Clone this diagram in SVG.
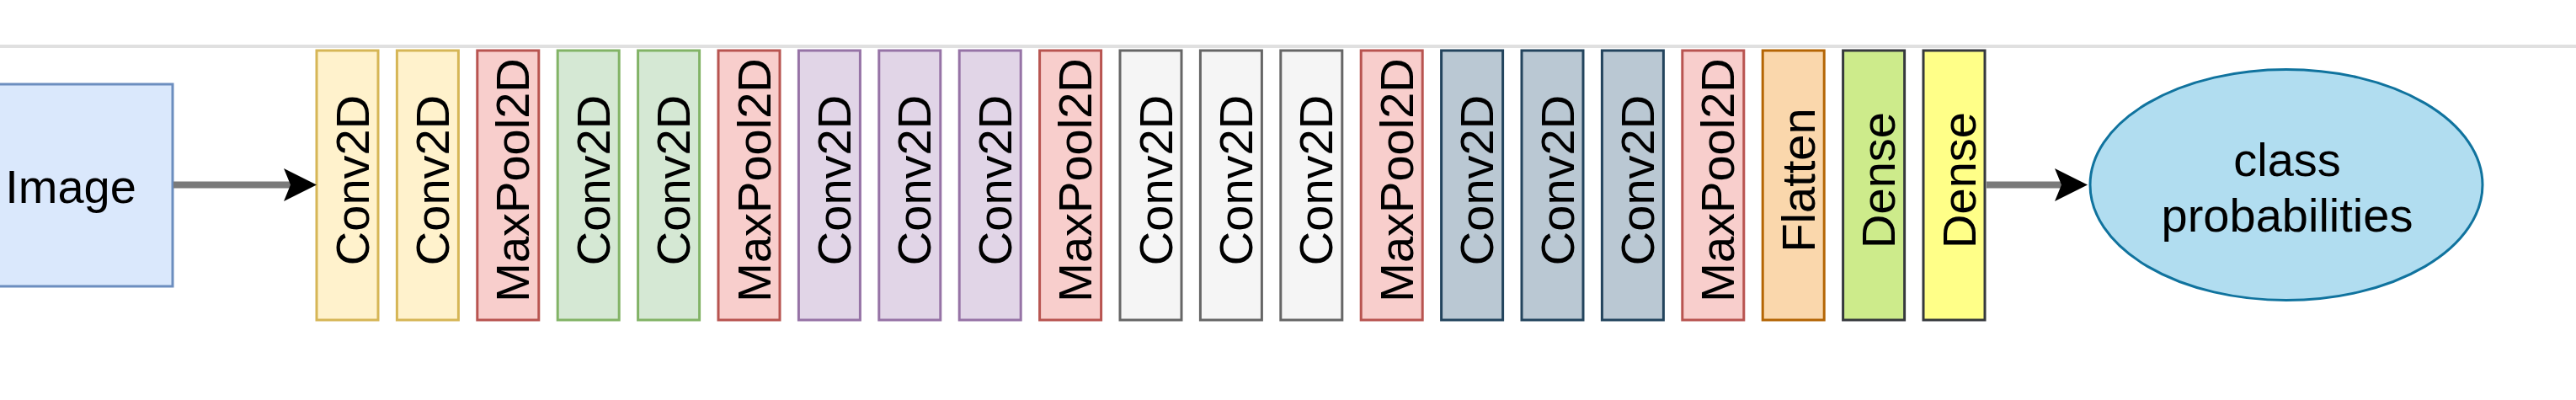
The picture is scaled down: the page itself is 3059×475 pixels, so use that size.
<svg xmlns="http://www.w3.org/2000/svg" width="3059" height="475" viewBox="0 0 3059 475">
<style>
text{font-family:"Liberation Sans",Arial,Helvetica,sans-serif;font-size:56px;fill:#000;text-anchor:middle}
.b{stroke-width:3}
.yel{fill:#fff2cc;stroke:#d6b656}
.red{fill:#f8cecc;stroke:#b85450}
.grn{fill:#d5e8d4;stroke:#82b366}
.pur{fill:#e1d5e7;stroke:#9673a6}
.gry{fill:#f5f5f5;stroke:#666666}
.bgr{fill:#bac8d3;stroke:#23445d}
.org{fill:#fad7ac;stroke:#b46504}
.lim{fill:#cdeb8b;stroke:#36393d}
.ylw{fill:#ffff88;stroke:#36393d}
.conn{stroke:#7a7a7a;stroke-width:8;fill:none}
</style>
<defs>
<marker id="ah" viewBox="0 0 40 40" refX="8" refY="20" markerWidth="40" markerHeight="40" markerUnits="userSpaceOnUse" orient="auto">
<path d="M0,0.5 L39,20 L0,39.5 L8,20 Z" fill="#000"/>
</marker>
</defs>
<rect x="0" y="53" width="3059" height="4" fill="#e0e0e0"/>
<g id="image">
<rect x="-40" y="100" width="245" height="240" fill="#dae8fc" stroke="#6c8ebf" stroke-width="3"/>
<text x="84" y="241">Image</text>
</g>
<g id="layers">
<g id="l0"><rect class="b yel" x="376" y="60" width="73" height="320"/><text transform="translate(437.5,214) rotate(-90)">Conv2D</text></g>
<g id="l1"><rect class="b yel" x="471.4" y="60" width="73" height="320"/><text transform="translate(532.9,214) rotate(-90)">Conv2D</text></g>
<g id="l2"><rect class="b red" x="566.8" y="60" width="73" height="320"/><text transform="translate(628.3,214) rotate(-90)">MaxPool2D</text></g>
<g id="l3"><rect class="b grn" x="662.2" y="60" width="73" height="320"/><text transform="translate(723.7,214) rotate(-90)">Conv2D</text></g>
<g id="l4"><rect class="b grn" x="757.6" y="60" width="73" height="320"/><text transform="translate(819.1,214) rotate(-90)">Conv2D</text></g>
<g id="l5"><rect class="b red" x="853" y="60" width="73" height="320"/><text transform="translate(914.5,214) rotate(-90)">MaxPool2D</text></g>
<g id="l6"><rect class="b pur" x="948.4" y="60" width="73" height="320"/><text transform="translate(1009.9,214) rotate(-90)">Conv2D</text></g>
<g id="l7"><rect class="b pur" x="1043.8" y="60" width="73" height="320"/><text transform="translate(1105.3,214) rotate(-90)">Conv2D</text></g>
<g id="l8"><rect class="b pur" x="1139.2" y="60" width="73" height="320"/><text transform="translate(1200.7,214) rotate(-90)">Conv2D</text></g>
<g id="l9"><rect class="b red" x="1234.6" y="60" width="73" height="320"/><text transform="translate(1296.1,214) rotate(-90)">MaxPool2D</text></g>
<g id="l10"><rect class="b gry" x="1330" y="60" width="73" height="320"/><text transform="translate(1391.5,214) rotate(-90)">Conv2D</text></g>
<g id="l11"><rect class="b gry" x="1425.4" y="60" width="73" height="320"/><text transform="translate(1486.9,214) rotate(-90)">Conv2D</text></g>
<g id="l12"><rect class="b gry" x="1520.8" y="60" width="73" height="320"/><text transform="translate(1582.3,214) rotate(-90)">Conv2D</text></g>
<g id="l13"><rect class="b red" x="1616.2" y="60" width="73" height="320"/><text transform="translate(1677.7,214) rotate(-90)">MaxPool2D</text></g>
<g id="l14"><rect class="b bgr" x="1711.6" y="60" width="73" height="320"/><text transform="translate(1773.1,214) rotate(-90)">Conv2D</text></g>
<g id="l15"><rect class="b bgr" x="1807" y="60" width="73" height="320"/><text transform="translate(1868.5,214) rotate(-90)">Conv2D</text></g>
<g id="l16"><rect class="b bgr" x="1902.4" y="60" width="73" height="320"/><text transform="translate(1963.9,214) rotate(-90)">Conv2D</text></g>
<g id="l17"><rect class="b red" x="1997.8" y="60" width="73" height="320"/><text transform="translate(2059.3,214) rotate(-90)">MaxPool2D</text></g>
<g id="l18"><rect class="b org" x="2093.2" y="60" width="73" height="320"/><text transform="translate(2154.7,214) rotate(-90)">Flatten</text></g>
<g id="l19"><rect class="b lim" x="2188.6" y="60" width="73" height="320"/><text transform="translate(2250.1,214) rotate(-90)">Dense</text></g>
<g id="l20"><rect class="b ylw" x="2284" y="60" width="73" height="320"/><text transform="translate(2345.5,214) rotate(-90)">Dense</text></g>
</g>
<g id="output">
<ellipse cx="2715" cy="219.5" rx="233" ry="137" fill="#b1ddf0" stroke="#10739e" stroke-width="3"/>
<text x="2716" y="209">class</text>
<text x="2716" y="275">probabilities</text>
</g>
<g id="connectors">
<path class="conn" d="M206,219.5 H345" marker-end="url(#ah)"/>
<path class="conn" d="M2359,219.5 H2448" marker-end="url(#ah)"/>
</g>
</svg>
